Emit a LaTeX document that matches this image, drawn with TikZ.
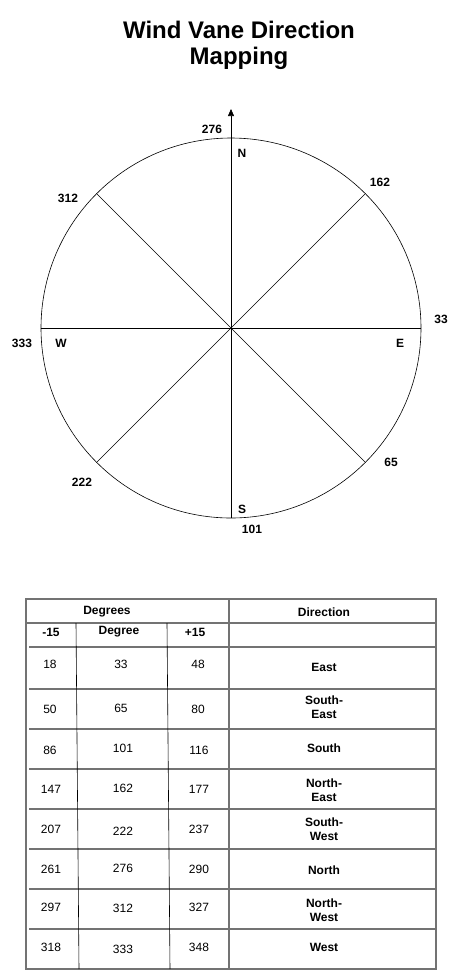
\documentclass[tikz,border=0pt]{standalone}
\usepackage{fontspec}
\setmainfont{Liberation Sans}
\usetikzlibrary{arrows.meta}
\begin{document}
\begin{tikzpicture}[x=1pt,y=-1pt,
  title/.style={font=\fontsize{24}{27}\selectfont\bfseries,align=center},
  lbl/.style={font=\fontsize{12}{14}\selectfont\bfseries,inner sep=0pt},
  num/.style={font=\fontsize{12}{14}\selectfont,inner sep=0pt},
  dir/.style={font=\fontsize{12}{14}\selectfont\bfseries,inner sep=0pt,align=center},
  grid/.style={draw=black!55,line width=1.2pt},
  thin/.style={draw=black,line width=0.6pt}]
\useasboundingbox (0,0) rectangle (461,970);
\fill[white] (0,0) rectangle (461,970);
% title
\node[title] (t1) at (239,30) {Wind Vane Direction};
\node[title] (t2) at (239,58) {Mapping};
% compass
\coordinate (c) at (231,328);
\node[circle,draw=black,line width=0.6pt,minimum size=380pt,inner sep=0pt] (circ) at (c) {};
\coordinate (tip) at (231,109);
\draw[thin,-{Triangle[length=7pt,width=6pt]}] (c) -- (tip);
\draw[thin] (c) -- (circ.south);
\draw[thin] (circ.west) -- (circ.east);
\draw[thin] (circ.45) -- (circ.225);
\draw[thin] (circ.135) -- (circ.315);
\node[lbl] (l276) at (212,129) {276};
\node[lbl] (lN) at (242,153) {N};
\node[lbl] (l162) at (380,182) {162};
\node[lbl] (l312) at (68,198) {312};
\node[lbl] (l33) at (441,319) {33};
\node[lbl] (l333) at (22,343) {333};
\node[lbl] (lW) at (61,343) {W};
\node[lbl] (lE) at (400,343) {E};
\node[lbl] (l65) at (391,462) {65};
\node[lbl] (l222) at (82,482) {222};
\node[lbl] (lS) at (242,509) {S};
\node[lbl] (l101) at (252,529) {101};
% table
\coordinate (tl) at (26,599);
\coordinate (br) at (436,969);
\draw[grid] (tl) rectangle (br);
\coordinate (h1a) at (26,623); \coordinate (h1b) at (436,623);
\draw[grid] (h1a) -- (h1b);
\foreach \y in {647,689,729,769,809,849,889,929}{
  \draw[grid] (29,\y) -- (435,\y);
}
\coordinate (v3a) at (229,599); \coordinate (v3b) at (229,969);
\draw[grid] (v3a) -- (v3b);
\coordinate (v1a) at (76,623); \coordinate (v1b) at (79,969);
\coordinate (v2a) at (167,623); \coordinate (v2b) at (170,969);
\draw[thin] (v1a) -- (v1b);
\draw[thin] (v2a) -- (v2b);
\node[lbl] (hdeg) at (107,612) {Degrees};
\node[lbl] (hdir) at (324,612) {Direction};
\node[lbl] (hm) at (51,632) {-15};
\node[lbl] (hd) at (119,632) {Degree};
\node[lbl] (hp) at (195,632) {+15};
% rows
\node[num] (a1) at (50,664) {18};  \node[num] (b1) at (121,664) {33};  \node[num] (c1) at (198,664) {48};
\node[dir] (d1) at (324,667) {East};
\node[num] (a2) at (50,709) {50};  \node[num] (b2) at (121,708) {65};  \node[num] (c2) at (198,709) {80};
\node[dir] (d2) at (324,707) {South-\\East};
\node[num] (a3) at (50,750) {86};  \node[num] (b3) at (123,748) {101}; \node[num] (c3) at (199,750) {116};
\node[dir] (d3) at (324,748) {South};
\node[num] (a4) at (51,789) {147}; \node[num] (b4) at (123,788) {162}; \node[num] (c4) at (199,789) {177};
\node[dir] (d4) at (324,790) {North-\\East};
\node[num] (a5) at (51,829) {207}; \node[num] (b5) at (123,831) {222}; \node[num] (c5) at (199,829) {237};
\node[dir] (d5) at (324,829) {South-\\West};
\node[num] (a6) at (51,869) {261}; \node[num] (b6) at (123,868) {276}; \node[num] (c6) at (199,869) {290};
\node[dir] (d6) at (324,870) {North};
\node[num] (a7) at (51,907) {297}; \node[num] (b7) at (123,908) {312}; \node[num] (c7) at (199,907) {327};
\node[dir] (d7) at (324,910) {North-\\West};
\node[num] (a8) at (51,947) {318}; \node[num] (b8) at (123,949) {333}; \node[num] (c8) at (199,947) {348};
\node[dir] (d8) at (324,947) {West};
\end{tikzpicture}
\end{document}
